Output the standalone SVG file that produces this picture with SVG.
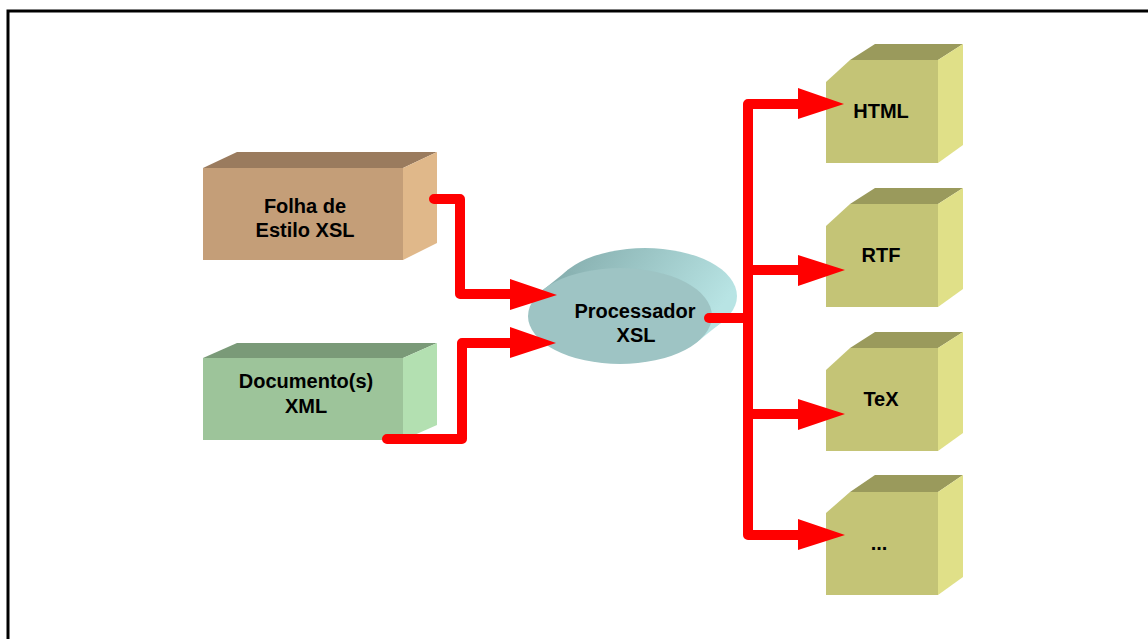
<svg xmlns="http://www.w3.org/2000/svg" width="1148" height="639" viewBox="0 0 1148 639">
<defs>
<linearGradient id="procSide" x1="0" y1="0" x2="1" y2="0.4">
<stop offset="0" stop-color="#82aaaa"/>
<stop offset="1" stop-color="#b8e4e4"/>
</linearGradient>
<style>
.lbl{font-family:"Liberation Sans",Arial,sans-serif;font-weight:bold;font-size:20px;fill:#000;text-anchor:middle}
.wire{fill:none;stroke:#ff0000;stroke-width:10;stroke-linecap:round;stroke-linejoin:round}
.head{fill:#ff0000}
.oFront{fill:#c4c476}
.oRight{fill:#e0e088}
.oTop{fill:#9a9a5c}
</style>
</defs>
<rect width="1148" height="639" fill="#fff"/>
<path d="M8,639 V11 H1148" fill="none" stroke="#000" stroke-width="3"/>

<g id="folha">
<polygon points="203,168 237,152 437,152 403,168" fill="#9a7b5e"/>
<polygon points="403,168 437,152 437,243 403,260" fill="#e0b88a"/>
<rect x="203" y="168" width="200" height="92" fill="#c49e78"/>
<text class="lbl" x="305" y="213">Folha de</text>
<text class="lbl" x="305" y="237">Estilo XSL</text>
</g>

<g id="documento">
<polygon points="203,358 237,343 437,343 403,358" fill="#7a9a78"/>
<polygon points="403,358 437,343 437,425 403,440" fill="#b3e0b1"/>
<rect x="203" y="358" width="200" height="82" fill="#9dc49a"/>
<text class="lbl" x="306" y="388">Documento(s)</text>
<text class="lbl" x="306" y="413">XML</text>
</g>

<g id="processador">
<ellipse cx="645" cy="296" rx="92" ry="48" fill="url(#procSide)"/>
<polygon points="543,290 568,270 722,322 697,342" fill="url(#procSide)"/>
<ellipse cx="620" cy="316" rx="92" ry="48" fill="#9ec4c4"/>
<text class="lbl" x="635" y="318">Processador</text>
<text class="lbl" x="636" y="342">XSL</text>
</g>

<g id="html">
<polygon class="oTop" points="850,60 875,44 963,44 938,60"/>
<polygon class="oRight" points="938,60 963,44 963,145 938,163"/>
<polygon class="oFront" points="826,82 850,60 938,60 938,163 826,163"/>
<text class="lbl" x="881" y="118">HTML</text>
</g>

<g id="rtf">
<polygon class="oTop" points="850,204 875,188 963,188 938,204"/>
<polygon class="oRight" points="938,204 963,188 963,289 938,307"/>
<polygon class="oFront" points="826,226 850,204 938,204 938,307 826,307"/>
<text class="lbl" x="881" y="262">RTF</text>
</g>

<g id="tex">
<polygon class="oTop" points="850,348 875,332 963,332 938,348"/>
<polygon class="oRight" points="938,348 963,332 963,433 938,451"/>
<polygon class="oFront" points="826,370 850,348 938,348 938,451 826,451"/>
<text class="lbl" x="881" y="406">TeX</text>
</g>

<g id="outros">
<polygon class="oTop" points="850,492 875,475 963,475 938,492"/>
<polygon class="oRight" points="938,492 963,475 963,577 938,595"/>
<polygon class="oFront" points="826,513 850,492 938,492 938,595 826,595"/>
<text class="lbl" x="879" y="550">...</text>
</g>

<g id="connectors">
<path class="wire" d="M434,199 H460 V294 H512"/>
<polygon class="head" points="510,279 557,295 510,310"/>
<path class="wire" d="M387,439 H462 V343 H512"/>
<polygon class="head" points="510,327 556,343 510,358"/>
<path class="wire" d="M709,318 H748"/>
<path class="wire" d="M800,104 H748 V535 H800"/>
<path class="wire" d="M748,270 H800"/>
<path class="wire" d="M748,414 H800"/>
<polygon class="head" points="798,88 844,104 798,119"/>
<polygon class="head" points="798,255 845,270 798,286"/>
<polygon class="head" points="798,399 845,414 798,430"/>
<polygon class="head" points="798,519 845,535 798,550"/>
</g>
</svg>
